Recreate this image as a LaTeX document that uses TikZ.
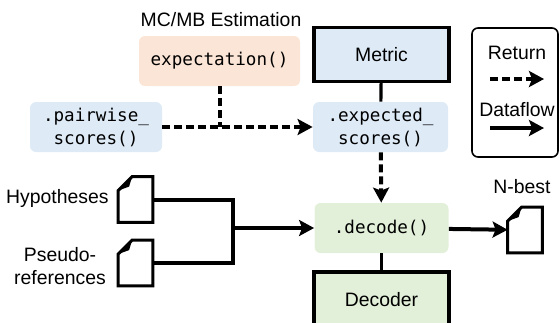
\documentclass[tikz,border=0pt]{standalone}
\usepackage{fontspec}
\setmainfont{Liberation Sans}
\newfontfamily\codefont{DejaVu Sans Mono}
\usetikzlibrary{arrows.meta,positioning,shapes}
\definecolor{estfill}{HTML}{FBE5D6}
\definecolor{metfill}{HTML}{DEEBF7}
\definecolor{decfill}{HTML}{E2F0D9}
%% document icon drawn round an empty node
\newcommand{\docicon}[1]{%
\draw[doc] ([yshift=-7pt]#1.north west) -- ([xshift=7pt]#1.north west) --
(#1.north east) -- (#1.south east) -- (#1.south west) -- cycle;
\fill ([yshift=-7pt]#1.north west) -- ([xshift=7pt]#1.north west) --
([xshift=5.5pt,yshift=-5pt]#1.north west) -- cycle;}

\begin{document}
\begin{tikzpicture}
[x=.5pt,y=-.5pt,
    fn/.style={shape=rectangle,rounded corners=3pt,minimum height=25pt,
    inner sep=1pt,align=center,
    font=\codefont\fontsize{8.8}{11.5}\selectfont},
    cls/.style={draw,line width=1.6pt,shape=rectangle,minimum
    width=67.5pt,minimum height=27pt,font=\fontsize{9.7}{11.5}\selectfont},
    lab/.style={font=\fontsize{9.7}{11.5}\selectfont,inner sep=0pt,align=center},
    docnode/.style={minimum width=17pt,minimum height=22.5pt,inner sep=0pt},
    doc/.style={line width=1.5pt,line join=miter},
    ret/.style={dashed,dash pattern=on 4pt off 2pt,line width=2pt,
    -{Stealth[length=7.5pt,width=8pt,inset=1.5pt]}},
    flow/.style={line width=2pt,-{Stealth[length=7.5pt,width=8pt,inset=1.5pt]}},
    link/.style={line width=1.6pt}]
\useasboundingbox (0,0) rectangle (560,322);
%%%%%%%%%%
%% nodes
\node (mc) [lab] at (221,20) {MC/MB Estimation};
\node (expect) [fn,fill=estfill,minimum width=80.5pt] at (219.5,61) {expectation()};
\node (pair) [fn,fill=metfill,minimum width=66pt] at (96,127) {.pairwise\_\\scores()};
\node (metric) [cls,fill=metfill] at (381.5,54.5) {Metric};
\node (exp) [fn,fill=metfill,minimum width=67.5pt] at (380.5,127) {.expected\_\\scores()};
\node (decode) [fn,fill=decfill,minimum width=67pt] at (381.5,228) {.decode()};
\node (decoder) [cls,fill=decfill,minimum height=28pt] at (381.5,300) {Decoder};
%% documents
\node (hyp) [docnode] at (135.5,199.5) {};
\node (pseudo) [docnode] at (135.5,263) {};
\node (nbest) [docnode] at (525,230) {};
\docicon{hyp}
\docicon{pseudo}
\docicon{nbest}
\node (thyp) [lab,anchor=east] at (109,198) {Hypotheses};
\node (tpseudo) [lab] at (60,266) {Pseudo-\\references};
\node (tnbest) [lab] at (522,187) {N-best};
%% legend
\node (legend) [draw,line width=.8pt,rounded corners=3pt,minimum width=43pt,
minimum height=64.5pt] at (515,92.5) {};
\node (tret) [lab] at (517,53) {Return};
\node (tflow) [lab] at (517,110) {Dataflow};
\coordinate (r1) at (490,79);
\coordinate (r2) at (544,79);
\coordinate (f1) at (490,128);
\coordinate (f2) at (544,128);
%% edges
\draw[ret] (pair) -- (exp);
\draw[ret,-] (expect) -- (expect.south |- pair.east);
\draw[link] (metric) -- (exp);
\draw[ret] (exp) -- (decode);
\coordinate (j) at (233,228);
\draw[line width=2pt] (hyp.east) -| (j) |- (pseudo.east);
\draw[flow] (j) -- (decode);
\draw[flow] (decode) -- (nbest);
\draw[link] (decode) -- (decoder);
\draw[ret] (r1) -- (r2);
\draw[flow] (f1) -- (f2);
\end{tikzpicture}
\end{document}
